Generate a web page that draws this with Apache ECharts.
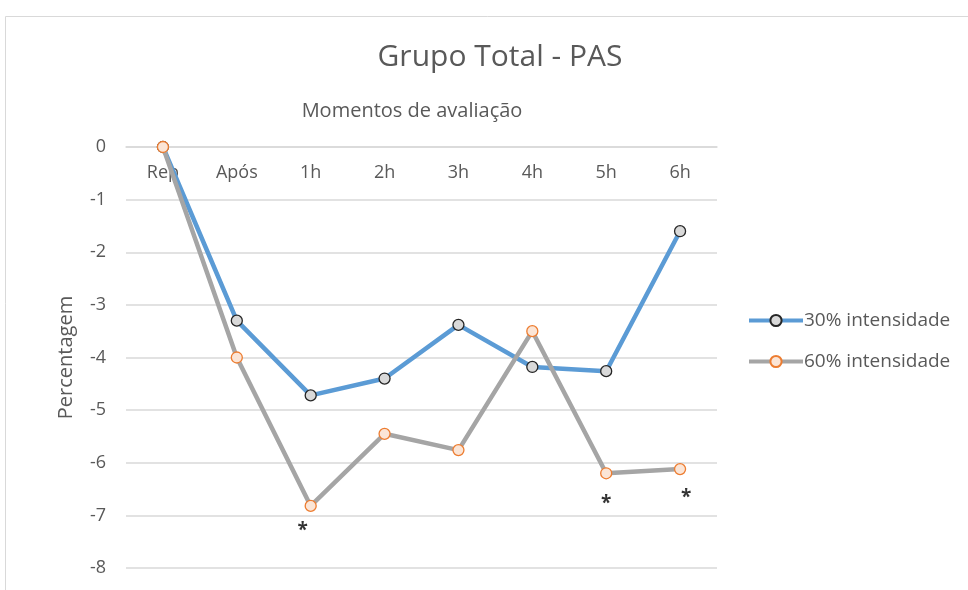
<!DOCTYPE html>
<html>
<head>
<meta charset="utf-8">
<script src="https://cdn.jsdelivr.net/npm/echarts@6/dist/echarts.min.js"></script>
<style>
  html, body { margin: 0; padding: 0; background: #fff; }
  #chart { width: 968px; height: 590px; }
</style>
</head>
<body>
<div id="chart"></div>
<script>
// categorias (momentos de avaliação)
const momentos = ["Rep", "Após", "1h", "2h", "3h", "4h", "5h", "6h"];
// valores
const int30 = [0, -3.3, -4.72, -4.4, -3.38, -4.18, -4.26, -1.6];
const int60 = [0, -4.0, -6.82, -5.45, -5.76, -3.5, -6.2, -6.12];
// posição dos asteriscos (diferença significativa)
const asteriscos = [null, null, -7.22, null, null, null, -6.7, -6.58];

const cinza = "#595959";
const fonte = "Open Sans";

let myChart = echarts.init(document.getElementById("chart"));

myChart.setOption({
    animation: false,
    textStyle: { fontFamily: fonte },
    title: [{
        text: "Grupo Total - PAS",
        left: 495,
        top: 37,
        textAlign: "center",
        textStyle: { fontSize: 30, fontWeight: "normal", color: cinza, fontFamily: fonte }
    }, {
        text: "Momentos de avaliação",
        left: 407,
        top: 96,
        textAlign: "center",
        textStyle: { fontSize: 20, fontWeight: "normal", color: cinza, fontFamily: fonte }
    }],
    // moldura do gráfico
    graphic: [{
        type: "rect",
        shape: { x: 5.5, y: 16.5, width: 1000, height: 600 },
        style: { fill: "none", stroke: "#d9d9d9", lineWidth: 1 }
    }],
    grid: { left: 126, right: 251, top: 147, bottom: 22 },
    legend: {
        data: ["30% intensidade", "60% intensidade"],
        orient: "vertical",
        left: 742,
        top: 306,
        itemWidth: 54,
        itemHeight: 14,
        itemGap: 22,
        lineStyle: { width: 4 },
        textStyle: { fontSize: 19, color: cinza, padding: [0, 0, 0, -4] }
    },
    xAxis: {
        type: "category",
        data: momentos,
        position: "top",
        boundaryGap: true,
        axisLine: { lineStyle: { color: "#d9d9d9", width: 1.5 } },
        axisTick: { show: false },
        axisLabel: { inside: true, margin: 17, fontSize: 18, color: cinza }
    },
    yAxis: {
        type: "value",
        min: -8,
        max: 0,
        interval: 1,
        name: "Percentagem",
        nameLocation: "middle",
        nameGap: 50,
        nameTextStyle: { fontSize: 20, color: cinza },
        axisLine: { show: false },
        axisTick: { show: false },
        axisLabel: { fontSize: 18, color: cinza, margin: 20 },
        splitLine: { lineStyle: { color: "#d9d9d9", width: 1.5 } }
    },
    series: [{
        name: "30% intensidade",
        type: "line",
        data: int30,
        symbol: "circle",
        symbolSize: 11,
        lineStyle: { color: "#5b9bd5", width: 4.5 },
        itemStyle: { color: "#d9d9d9", borderColor: "#262626", borderWidth: 1.3 },
        z: 2
    }, {
        name: "60% intensidade",
        type: "line",
        data: int60,
        symbol: "circle",
        symbolSize: 11,
        lineStyle: { color: "#a5a5a5", width: 4.5 },
        itemStyle: { color: "#fbe5d6", borderColor: "#ed7d31", borderWidth: 1.3 },
        z: 3
    }, {
        name: "asteriscos",
        type: "scatter",
        symbol: "circle",
        symbolSize: 1,
        itemStyle: { color: "rgba(0,0,0,0)" },
        data: asteriscos.map((v, i) => ({
            value: v,
            label: { offset: [i === 7 ? 6 : (i === 2 ? -8 : 0), 4] }
        })),
        label: {
            show: true,
            position: "inside",
            formatter: "*",
            fontSize: 19,
            fontWeight: "bold",
            color: "#000"
        },
        silent: true,
        z: 4
    }]
});

window.addEventListener("resize", function () {
    myChart.resize();
});
</script>
</body>
</html>
